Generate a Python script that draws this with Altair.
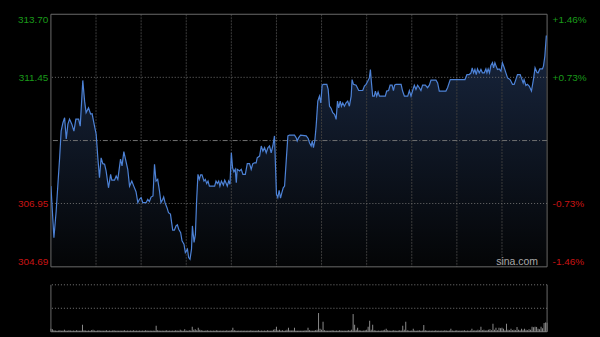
import altair as alt
import pandas as pd

# ---- data (HK intraday, 330 trading minutes) ----
minutes = [
    0, 2.0, 3.5, 5.8, 6.8, 8.0, 9.1, 10.2, 11.3, 12.4,
    13.9, 15.3, 16.6, 18.4, 19.5, 21.2, 22.4, 23.4, 25.0, 26.4,
    27.4, 29.0, 30.1, 31.2, 32.3, 33.4, 34.5, 35.7, 36.7, 38.3,
    39.7, 40.5, 42.3, 43.4, 44.5, 46.3, 47.3, 48.5, 49.6, 51.1,
    52.3, 53.8, 55.1, 56.6, 57.8, 58.9, 60.0, 61.1, 63.3, 64.4,
    65.5, 66.6, 67.9, 68.9, 69.9, 71.0, 72.2, 73.2, 74.4, 75.0,
    75.9, 77.2, 78.2, 79.5, 81.0, 82.1, 83.2, 84.1, 85.0, 86.3,
    87.2, 88.5, 89.4, 90.8, 91.6, 92.5, 93.5, 94.1, 95.2, 96.1,
    96.9, 97.8, 98.7, 99.6, 100.5, 101.8, 102.7, 103.6, 104.5, 105.4,
    106.7, 108.9, 109.8, 110.7, 111.6, 112.4, 113.4, 114.7, 115.6, 116.4,
    117.3, 118.2, 119.1, 120.0, 120.8, 121.7, 122.6, 123.3, 123.9, 125.5,
    126.6, 127.7, 129.3, 130.6, 132.1, 133.2, 134.3, 135.4, 136.5, 137.2,
    138.8, 139.9, 141.0, 142.1, 143.2, 144.3, 145.4, 146.5, 147.6, 148.7,
    149.4, 150.0, 150.9, 151.8, 152.7, 153.6, 154.5, 155.4, 156.5, 157.6,
    158.7, 162.0, 163.2, 163.8, 164.7, 166.0, 169.8, 171.1, 172.0, 173.1,
    173.8, 174.6, 175.5, 176.4, 177.5, 178.6, 179.5, 180.4, 181.3, 183.5,
    184.4, 185.3, 186.4, 187.4, 188.6, 189.7, 190.6, 191.4, 192.4, 193.2,
    194.1, 195.2, 196.3, 197.4, 198.5, 199.7, 200.3, 201.2, 203.0, 204.7,
    207.4, 208.5, 209.6, 210.7, 211.8, 212.5, 213.1, 214.0, 215.1, 215.8,
    216.7, 217.6, 218.5, 222.4, 223.3, 224.6, 225.6, 226.9, 227.8, 228.6,
    229.5, 232.9, 233.9, 235.1, 237.3, 238.4, 239.5, 240.6, 241.7, 242.8,
    243.9, 245.0, 246.1, 247.2, 249.0, 250.5, 251.7, 252.8, 256.1, 257.2,
    258.3, 262.7, 263.8, 265.6, 275.4, 276.7, 278.2, 279.4, 280.2, 281.1,
    282.0, 282.9, 283.7, 284.9, 286.0, 287.0, 288.2, 289.3, 290.0, 290.8,
    291.7, 292.6, 293.7, 294.4, 295.3, 296.1, 297.0, 298.1, 299.3, 300.3,
    301.5, 302.6, 303.7, 305.4, 307.0, 308.1, 309.2, 310.3, 312.1, 312.9,
    314.1, 314.7, 315.9, 316.9, 318.1, 319.6, 320.9, 322.0, 323.2, 324.0,
    325.2, 326.9, 327.6, 328.5, 329.5,
]
prices = [
    307.57, 305.73, 306.68, 308.58, 309.53, 309.83, 310.01, 309.25, 309.78, 309.96,
    309.78, 309.53, 309.96, 309.96, 309.71, 311.34, 310.60, 310.19, 310.36, 310.14,
    310.15, 309.71, 309.42, 308.58, 307.87, 308.58, 308.37, 308.35, 308.11, 307.51,
    307.99, 307.78, 307.78, 307.93, 307.81, 308.53, 308.29, 308.80, 308.53, 308.17,
    307.57, 307.75, 307.57, 307.37, 306.98, 307.10, 307.16, 306.98, 306.98, 307.10,
    307.02, 307.18, 307.22, 308.35, 307.75, 307.81, 307.40, 306.98, 307.10, 307.18,
    306.98, 306.80, 306.62, 306.57, 306.00, 306.00, 306.15, 306.19, 306.03, 305.91,
    305.62, 305.50, 305.20, 305.32, 305.02, 304.96, 305.32, 306.15, 305.56, 305.85,
    307.04, 307.99, 307.81, 307.97, 307.97, 307.75, 307.81, 307.66, 307.75, 307.57,
    307.57, 307.57, 307.75, 307.66, 307.75, 307.57, 307.75, 307.61, 307.78, 307.69,
    307.57, 307.75, 307.64, 308.76, 308.23, 308.08, 308.17, 307.69, 308.17, 308.11,
    308.17, 307.99, 307.99, 308.37, 308.37, 308.17, 308.37, 308.40, 308.40, 308.58,
    308.64, 309.00, 308.82, 308.94, 308.76, 308.94, 309.00, 308.76, 309.00, 309.36,
    308.23, 307.28, 307.16, 307.42, 307.14, 307.34, 307.51, 307.57, 308.47, 309.36,
    309.39, 309.39, 309.29, 309.18, 309.29, 309.39, 309.36, 309.27, 309.12, 309.00,
    309.18, 308.94, 309.18, 309.71, 310.60, 310.78, 310.54, 311.17, 311.20, 311.20,
    311.02, 310.42, 310.34, 310.19, 310.13, 309.95, 310.60, 310.36, 310.60, 310.42,
    310.54, 310.42, 310.54, 310.60, 310.42, 310.78, 311.37, 311.20, 311.17, 310.98,
    310.98, 311.14, 311.20, 311.31, 311.43, 311.73, 311.31, 310.78, 310.78, 310.96,
    310.78, 310.93, 310.78, 310.78, 310.96, 310.98, 311.17, 311.17, 310.98, 311.17,
    311.20, 311.20, 310.96, 310.78, 310.78, 310.98, 310.78, 310.98, 311.17, 311.02,
    311.17, 311.08, 310.98, 311.17, 311.17, 311.08, 311.17, 311.35, 311.35, 311.25,
    310.96, 310.96, 311.08, 311.37, 311.37, 311.55, 311.55, 311.61, 311.79, 311.61,
    311.73, 311.55, 311.75, 311.61, 311.73, 311.61, 311.61, 311.75, 311.61, 311.75,
    311.61, 311.87, 311.97, 311.79, 311.97, 311.85, 311.73, 311.75, 311.67, 311.97,
    311.79, 311.61, 311.43, 311.37, 311.20, 311.20, 311.37, 311.55, 311.55, 311.43,
    311.25, 311.37, 311.16, 311.20, 311.14, 310.96, 311.37, 311.79, 311.63, 311.61,
    311.75, 311.75, 311.85, 312.20, 312.94,
]
# per-minute volume (arbitrary units), minute 0..330
volumes = [
    30, 25, 15, 12, 10, 12, 15, 10, 12, 20, 12, 10, 15, 12, 10, 12, 10, 15, 12, 10,
    12, 70, 15, 12, 10, 12, 10, 15, 20, 12, 10, 12, 15, 10, 12, 10, 12, 15, 10, 12,
    10, 12, 15, 10, 12, 10, 12, 10, 12, 15, 10, 12, 10, 12, 10, 15, 10, 12, 10, 12,
    10, 12, 10, 15, 12, 10, 12, 10, 12, 10, 60, 15, 12, 10, 12, 10, 12, 15, 10, 12,
    10, 12, 10, 15, 12, 10, 20, 12, 10, 25, 12, 10, 15, 12, 50, 20, 25, 15, 40, 20,
    15, 12, 10, 12, 15, 10, 12, 10, 12, 10, 15, 12, 10, 12, 10, 12, 10, 15, 10, 12,
    15, 40, 15, 12, 10, 12, 10, 12, 10, 12, 10, 12, 10, 15, 10, 12, 10, 12, 15, 10,
    12, 10, 12, 10, 15, 12, 10, 12, 20, 25, 50, 15, 20, 12, 15, 10, 12, 20, 40, 15,
    12, 15, 40, 12, 10, 12, 10, 12, 10, 15, 12, 40, 15, 12, 10, 12, 15, 20, 187, 30,
    20, 100, 15, 12, 10, 12, 10, 15, 12, 10, 12, 10, 15, 12, 10, 12, 10, 12, 15, 12,
    20, 177, 70, 20, 40, 15, 12, 10, 12, 15, 20, 50, 110, 20, 70, 15, 12, 10, 12, 10,
    12, 15, 20, 30, 15, 12, 10, 12, 15, 12, 10, 12, 15, 12, 60, 20, 100, 15, 12, 10,
    12, 30, 12, 10, 12, 15, 10, 12, 67, 15, 12, 10, 12, 10, 12, 10, 15, 10, 12, 10,
    12, 10, 15, 12, 10, 12, 30, 12, 10, 12, 15, 10, 12, 10, 12, 15, 10, 12, 10, 12,
    30, 12, 15, 12, 20, 15, 50, 15, 20, 12, 15, 20, 25, 15, 80, 20, 40, 15, 40, 35,
    40, 30, 15, 80, 20, 15, 30, 15, 20, 15, 47, 20, 15, 30, 20, 30, 20, 15, 25, 20,
    50, 45, 50, 48, 30, 25, 50, 35, 87, 93, 90,
]
PREV_CLOSE = 309.195
Y_MIN, Y_MAX = 304.69, 313.70
price_ticks = [304.69, 306.95, 311.45, 313.70]
grid_prices = [306.95, 311.45]
grid_minutes = [30, 60, 90, 120, 150, 180, 210, 240, 270, 300]
edge_minutes = [0, 330]
VOL_MAX = 470
vol_grid = [235, 470]

assert len(minutes) == len(prices)

price_df = pd.DataFrame({"minute": minutes, "price": prices})
vol_df = pd.DataFrame({"minute": list(range(len(volumes))), "volume": volumes})
vgrid_df = pd.DataFrame({"minute": grid_minutes})
hgrid_df = pd.DataFrame({"price": grid_prices})
prev_df = pd.DataFrame({"price": [PREV_CLOSE]})
edge_df = pd.DataFrame({"minute": edge_minutes})
frame_y_df = pd.DataFrame({"price": [Y_MIN, Y_MAX]})
volgrid_df = pd.DataFrame({"volume": vol_grid})
volbase_df = pd.DataFrame({"volume": [0]})

FONT = "Liberation Sans"
GREEN = "#1a9a1a"
RED = "#c81414"
FRAME = "#6a6a6a"

xscale = alt.Scale(domain=[0, 330], nice=False, zero=False)
yscale = alt.Scale(domain=[Y_MIN, Y_MAX], nice=False, zero=False)
vscale = alt.Scale(domain=[0, VOL_MAX], nice=False, zero=True)

label_color = {"condition": {"test": f"datum.value > {PREV_CLOSE}", "value": GREEN}, "value": RED}

left_axis = alt.Axis(
    values=price_ticks, format=".2f", orient="left", labelColor=label_color,
    labelFlush=True, labelFont=FONT, labelFontSize=10, labelPadding=3,
    domain=False, ticks=False, grid=False,
)
right_axis = alt.Axis(
    values=price_ticks, orient="right", labelColor=label_color,
    labelExpr=f"(datum.value > {PREV_CLOSE} ? '+' : '-') + format(abs(datum.value - {PREV_CLOSE}) / {PREV_CLOSE} * 100, '.2f') + '%'",
    labelFlush=True, labelFont=FONT, labelFontSize=10, labelPadding=5,
    domain=False, ticks=False, grid=False,
)

W, H_MAIN, H_VOL = 497, 253, 47

x_enc = alt.X("minute:Q", scale=xscale, axis=None)

area = alt.Chart(price_df).mark_area(
    line=False, clip=True,
    color=alt.Gradient(
        gradient="linear",
        stops=[alt.GradientStop(color="#18263f", offset=0),
               alt.GradientStop(color="#040506", offset=1)],
        x1=1, x2=1, y1=0, y2=1,
    ),
).encode(
    x=x_enc,
    y=alt.Y("price:Q", scale=yscale, axis=left_axis, title=None),
    y2=alt.datum(Y_MIN),
)

vgrid = alt.Chart(vgrid_df).mark_rule(color="#3c3c3c", strokeWidth=1, strokeDash=[2, 1]).encode(x=x_enc)
hgrid = alt.Chart(hgrid_df).mark_rule(color="#6e6e6e", strokeWidth=1, strokeDash=[1, 2]).encode(
    y=alt.Y("price:Q", scale=yscale, axis=None)
)
prev = alt.Chart(prev_df).mark_rule(color="#707070", strokeWidth=1, strokeDash=[5, 2, 1, 2]).encode(
    y=alt.Y("price:Q", scale=yscale, axis=right_axis, title=None)
)
frame_v = alt.Chart(edge_df).mark_rule(color=FRAME, strokeWidth=1).encode(x=x_enc)
frame_h = alt.Chart(frame_y_df).mark_rule(color=FRAME, strokeWidth=1).encode(
    y=alt.Y("price:Q", scale=yscale, axis=None)
)
line = alt.Chart(price_df).mark_line(color="#4d82d6", strokeWidth=1.2, clip=True).encode(
    x=x_enc, y=alt.Y("price:Q", scale=yscale, axis=None)
)
brand = alt.Chart(pd.DataFrame({"t": ["sina.com"]})).mark_text(
    font=FONT, fontSize=10.5, color="#a8a8a8", align="center", baseline="alphabetic"
).encode(text="t:N", x=alt.value(467), y=alt.value(251))

main = alt.layer(area, vgrid, hgrid, prev, frame_v, frame_h, line, brand).resolve_axis(
    y="independent"
).properties(width=W, height=H_MAIN)

vx = alt.X("minute:Q", scale=xscale, axis=None)
vol_bars = alt.Chart(vol_df).mark_rule(color="#8a8a8a", strokeWidth=1).encode(
    x=vx, y=alt.Y("volume:Q", scale=vscale, axis=None), y2=alt.datum(0)
)
vol_grid_l = alt.Chart(volgrid_df).mark_rule(color="#7a7a7a", strokeWidth=1, strokeDash=[1, 2]).encode(
    y=alt.Y("volume:Q", scale=vscale, axis=None)
)
vol_base = alt.Chart(volbase_df).mark_rule(color="#7a7a7a", strokeWidth=1).encode(
    y=alt.Y("volume:Q", scale=vscale, axis=None)
)
vol_edges = alt.Chart(edge_df).mark_rule(color=FRAME, strokeWidth=1).encode(x=vx)
vol = alt.layer(vol_grid_l, vol_base, vol_bars, vol_edges).properties(width=W, height=H_VOL)

chart = alt.vconcat(main, vol, spacing=16).properties(
    background="#000000",
    padding={"left": 17, "top": 13, "right": 13, "bottom": 8},
).configure_view(strokeWidth=0)

chart.save("out.html", embed_options={"renderer": "svg", "actions": False})
